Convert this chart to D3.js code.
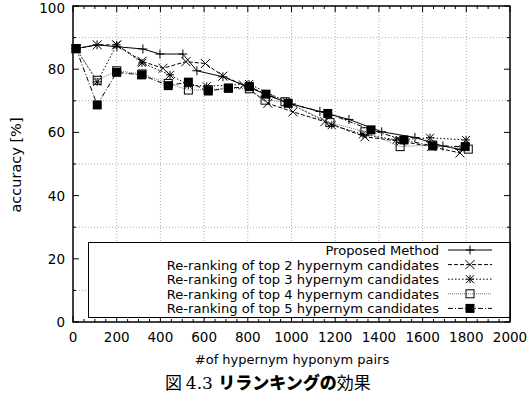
<!DOCTYPE html>
<html>
<head>
<meta charset="utf-8">
<script src="https://cdn.jsdelivr.net/npm/d3@7"></script>
<style>
  body { margin: 0; background: #fff; }
  text { font-family: "DejaVu Sans", sans-serif; fill: #000; }
</style>
</head>
<body>
<script>
var width = 527, height = 402;

// series
var proposedX = [14, 110, 201, 320, 398, 503, 567, 686, 801, 900, 1000, 1130, 1263, 1413, 1565, 1693, 1771];
var proposedY = [86.5, 87.7, 87.1, 86.4, 84.8, 84.8, 79.5, 77.6, 74.4, 71.5, 69, 66.6, 64.1, 60.2, 58.4, 55.7, 54.6];

var top2X = [14, 111, 200, 316, 412, 517, 606, 686, 780, 892, 1007, 1153, 1336, 1500, 1640, 1771];
var top2Y = [86.5, 87.7, 87.7, 82.5, 80.3, 82.4, 81.8, 77.8, 75, 69.2, 66.5, 63.4, 58.6, 57.2, 55.5, 53.5];

var top3X = [14, 111, 200, 316, 444, 528, 612, 806, 978, 1184, 1327, 1480, 1634, 1799];
var top3Y = [86.5, 76.0, 87.7, 82.0, 78.2, 75.0, 74.6, 75.3, 69.7, 62.3, 59.4, 57.6, 58.3, 57.6];

var top4X = [14, 111, 200, 316, 436, 528, 619, 711, 807, 879, 970, 1176, 1336, 1497, 1646, 1809];
var top4Y = [86.5, 76.5, 79.5, 78.5, 75.5, 73.4, 73.5, 74, 73.8, 70.2, 69.7, 63.1, 60.2, 55.5, 56, 54.7];

var top5X = [14, 111, 200, 314, 436, 528, 619, 711, 807, 883, 985, 1166, 1364, 1515, 1646, 1795];
var top5Y = [86.5, 68.7, 79.0, 78.2, 74.8, 75.9, 73.1, 74.0, 74.5, 72.1, 69.2, 66.0, 60.8, 57.6, 55.7, 55.5];

var seriesNames = [
  "Proposed Method",
  "Re-ranking of top 2 hypernym candidates",
  "Re-ranking of top 3 hypernym candidates",
  "Re-ranking of top 4 hypernym candidates",
  "Re-ranking of top 5 hypernym candidates"
];

var xTicks = d3.range(0, 2001, 200);
var yTicks = d3.range(0, 101, 20);

var svg = d3.select("body").append("svg")
  .attr("width", width)
  .attr("height", height);

var x = d3.scaleLinear().domain([0, 2000]).range([73, 510]);
var y = d3.scaleLinear().domain([0, 100]).range([322, 6]);

// grid: vertical on major x ticks, horizontal on minor y ticks
var grid = svg.append("g")
  .attr("stroke", "#999")
  .attr("stroke-width", 0.8)
  .attr("stroke-dasharray", "1,2");

grid.selectAll(".gx")
  .data(xTicks.slice(1, -1))
  .enter().append("line")
  .attr("x1", d => x(d)).attr("x2", d => x(d))
  .attr("y1", y(0)).attr("y2", y(100));

grid.selectAll(".gy")
  .data(d3.range(10, 100, 20))
  .enter().append("line")
  .attr("x1", x(0)).attr("x2", x(2000))
  .attr("y1", d => y(d)).attr("y2", d => y(d));

// tick marks on all four sides
var ticks = svg.append("g").attr("stroke", "#000").attr("stroke-width", 1);

d3.range(0, 2001, 50).forEach(function(v) {
  var len = v % 200 == 0 ? 6 : 3;
  ticks.append("line").attr("x1", x(v)).attr("x2", x(v)).attr("y1", y(0)).attr("y2", y(0) - len);
  ticks.append("line").attr("x1", x(v)).attr("x2", x(v)).attr("y1", y(100)).attr("y2", y(100) + len);
});
d3.range(0, 101, 10).forEach(function(v) {
  var len = v % 20 == 0 ? 6 : 3;
  ticks.append("line").attr("x1", x(0)).attr("x2", x(0) + len).attr("y1", y(v)).attr("y2", y(v));
  ticks.append("line").attr("x1", x(2000)).attr("x2", x(2000) - len).attr("y1", y(v)).attr("y2", y(v));
});

svg.append("g")
  .selectAll("text")
  .data(xTicks)
  .enter().append("text")
  .attr("x", d => x(d))
  .attr("y", 342)
  .attr("text-anchor", "middle")
  .style("font-size", "13.5px")
  .text(d => d);

svg.append("g")
  .selectAll("text")
  .data(yTicks)
  .enter().append("text")
  .attr("x", 65)
  .attr("y", d => y(d) + 5)
  .attr("dy", d => d == 100 ? 1.5 : 0)
  .attr("text-anchor", "end")
  .style("font-size", "13.5px")
  .text(d => d);

svg.append("text")
  .attr("transform", "translate(21,165) rotate(-90)")
  .attr("text-anchor", "middle")
  .style("font-size", "14.5px")
  .text("accuracy [%]");

svg.append("text")
  .attr("x", 292)
  .attr("y", 364)
  .attr("text-anchor", "middle")
  .style("font-size", "13px")
  .text("#of hypernym hyponym pairs");

// markers
function plus(g, s) {
  g.append("path").attr("d", `M${-s},0H${s}M0,${-s}V${s}`).attr("stroke", "#000").attr("fill", "none");
}
function cross(g, s) {
  g.append("path").attr("d", `M${-s},${-s}L${s},${s}M${-s},${s}L${s},${-s}`).attr("stroke", "#000").attr("fill", "none");
}
function star(g, s) {
  plus(g, s); cross(g, s);
}
function openSquare(g, s) {
  g.append("rect").attr("x", -s).attr("y", -s).attr("width", 2 * s).attr("height", 2 * s)
    .attr("fill", "none").attr("stroke", "#000");
}
function fillSquare(g, s) {
  g.append("rect").attr("x", -s).attr("y", -s).attr("width", 2 * s).attr("height", 2 * s)
    .attr("fill", "#000");
}

var series = [
  { xs: proposedX, ys: proposedY, dash: null, color: "#000", mark: plus, size: 4.5 },
  { xs: top2X, ys: top2Y, dash: "4,2", color: "#000", mark: cross, size: 4.5 },
  { xs: top3X, ys: top3Y, dash: "1.5,2", color: "#000", mark: star, size: 4 },
  { xs: top4X, ys: top4Y, dash: "1,1", color: "#777", mark: openSquare, size: 4 },
  { xs: top5X, ys: top5Y, dash: "5,2,1,2", color: "#000", mark: fillSquare, size: 4.5 }
];

var line = d3.line().x(d => x(d[0])).y(d => y(d[1]));

series.forEach(function(s) {
  var pts = s.xs.map((v, i) => [v, s.ys[i]]);
  svg.append("path")
    .datum(pts)
    .attr("d", line)
    .attr("fill", "none")
    .attr("stroke", s.color)
    .attr("stroke-width", 1)
    .attr("stroke-dasharray", s.dash);
  var g = svg.append("g");
  pts.forEach(function(p) {
    var m = g.append("g").attr("transform", `translate(${x(p[0])},${y(p[1])})`);
    s.mark(m, s.size);
  });
});

// legend
var legend = svg.append("g");
legend.append("rect")
  .attr("x", 88.5).attr("y", 242.5)
  .attr("width", 422).attr("height", 75)
  .attr("fill", "#fff")
  .attr("stroke", "#000");

series.forEach(function(s, i) {
  var ly = 250 + i * 14.6;
  legend.append("text")
    .attr("x", 439)
    .attr("y", ly + 5)
    .attr("text-anchor", "end")
    .style("font-size", "13.1px")
    .text(seriesNames[i]);
  legend.append("line")
    .attr("x1", 448).attr("x2", 492)
    .attr("y1", ly).attr("y2", ly)
    .attr("stroke", s.color)
    .attr("stroke-dasharray", s.dash);
  s.mark(legend.append("g").attr("transform", `translate(470,${ly})`), s.size);
});

// frame
svg.append("rect")
  .attr("x", x(0)).attr("y", y(100))
  .attr("width", x(2000) - x(0)).attr("height", y(0) - y(100))
  .attr("fill", "none")
  .attr("stroke", "#000")
  .attr("stroke-width", 1.5);

// caption
var cap = svg.append("text")
  .attr("x", 165)
  .attr("y", 389)
  .style("font-size", "17px");
cap.append("tspan").style("font-family", "'Noto Sans CJK JP'").text("図 ");
cap.append("tspan").style("font-family", "'DejaVu Serif', serif").text("4.3 ");
cap.append("tspan").style("font-family", "'Noto Sans CJK JP'").style("font-weight", "900").text("リランキングの");
cap.append("tspan").style("font-family", "'Noto Sans CJK JP'").text("効果");
</script>
</body>
</html>
